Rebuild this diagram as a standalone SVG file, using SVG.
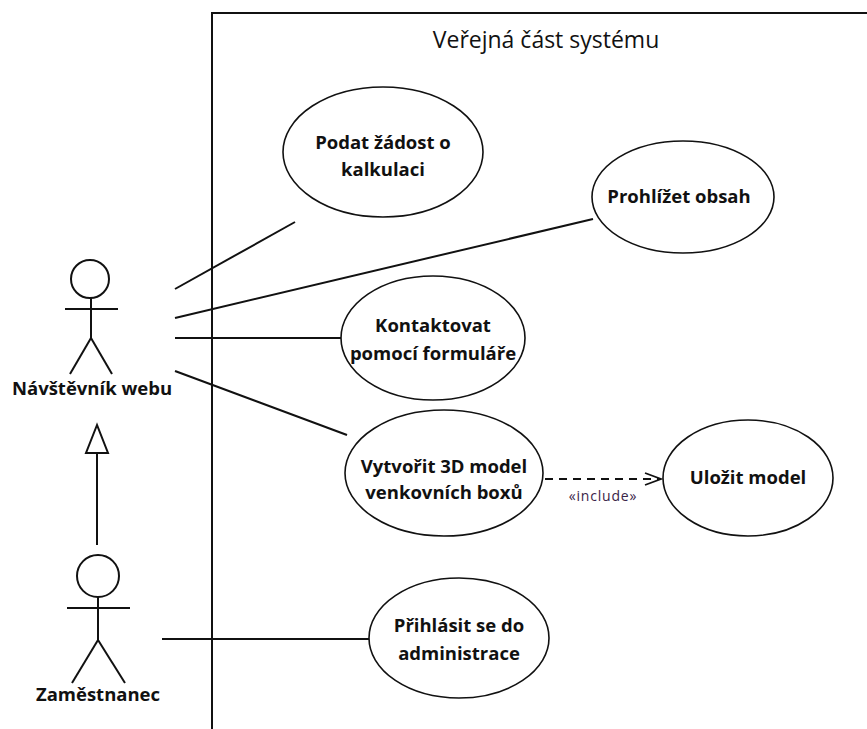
<svg xmlns="http://www.w3.org/2000/svg" width="867" height="729" viewBox="0 0 867 729">
<defs>
<style>
.ln{stroke:#111;stroke-width:2;fill:none}
.uc{fill:#fff;stroke:#111;stroke-width:1.6}
.t{font-family:"Open Sans","Liberation Sans",sans-serif;font-weight:bold;font-size:18.5px;fill:#111;text-anchor:middle}
.title{font-family:"Open Sans","Liberation Sans",sans-serif;font-size:23px;fill:#111;text-anchor:middle}
.st{font-family:"Open Sans","Liberation Sans",sans-serif;font-size:14px;letter-spacing:0.8px;fill:#3a2448;text-anchor:middle}
</style>
<marker id="open" markerWidth="20" markerHeight="14" refX="17" refY="7" orient="auto" markerUnits="userSpaceOnUse">
<path d="M1,1 L17,7 L1,13" fill="none" stroke="#111" stroke-width="1.8"/>
</marker>
</defs>
<rect width="867" height="729" fill="#fff"/>
<g id="boundary">
<path class="ln" d="M212,729 V13 H867"/>
<text class="title" x="546" y="48">Veřejná část systému</text>
</g>
<g id="connectors">
<line class="ln" x1="175" y1="289" x2="295" y2="222"/>
<line class="ln" x1="175" y1="318" x2="593" y2="219"/>
<line class="ln" x1="175" y1="338" x2="342" y2="338"/>
<line class="ln" x1="175" y1="371" x2="347" y2="435"/>
<line class="ln" x1="162" y1="639" x2="369" y2="639"/>
<line class="ln" x1="97" y1="545" x2="97" y2="453"/>
<polygon points="97,425 86,453 108,453" fill="#fff" stroke="#111" stroke-width="2"/>
<line class="ln" x1="545" y1="479" x2="661" y2="479" stroke-dasharray="8,6" marker-end="url(#open)"/>
<text class="st" x="603" y="501">«include»</text>
</g>
<g id="actor-navstevnik">
<circle cx="90" cy="279" r="19" class="ln"/>
<line class="ln" x1="65" y1="309" x2="118" y2="309"/>
<line class="ln" x1="91" y1="298" x2="91" y2="338"/>
<line class="ln" x1="91" y1="338" x2="70" y2="374"/>
<line class="ln" x1="91" y1="338" x2="112" y2="374"/>
<text class="t" x="92" y="395">Návštěvník webu</text>
</g>
<g id="actor-zamestnanec">
<circle cx="98" cy="576" r="21" class="ln"/>
<line class="ln" x1="67" y1="608" x2="130" y2="608"/>
<line class="ln" x1="98" y1="597" x2="98" y2="640"/>
<line class="ln" x1="98" y1="640" x2="72" y2="683"/>
<line class="ln" x1="98" y1="640" x2="125" y2="683"/>
<text class="t" x="98" y="701">Zaměstnanec</text>
</g>
<g id="uc-podat">
<ellipse class="uc" cx="383" cy="152" rx="100" ry="65"/>
<text class="t" x="383" y="149">Podat žádost o</text>
<text class="t" x="383" y="176">kalkulaci</text>
</g>
<g id="uc-prohlizet">
<ellipse class="uc" cx="683" cy="197" rx="91" ry="56"/>
<text class="t" x="679" y="203">Prohlížet obsah</text>
</g>
<g id="uc-kontaktovat">
<ellipse class="uc" cx="433" cy="338" rx="92" ry="62"/>
<text class="t" x="433" y="332">Kontaktovat</text>
<text class="t" x="433" y="360">pomocí formuláře</text>
</g>
<g id="uc-vytvorit">
<ellipse class="uc" cx="444" cy="473" rx="99" ry="63"/>
<text class="t" x="444" y="473">Vytvořit 3D model</text>
<text class="t" x="444" y="499">venkovních boxů</text>
</g>
<g id="uc-ulozit">
<ellipse class="uc" cx="748" cy="478" rx="85" ry="58"/>
<text class="t" x="748" y="484">Uložit model</text>
</g>
<g id="uc-prihlasit">
<ellipse class="uc" cx="459" cy="638" rx="90" ry="60"/>
<text class="t" x="459" y="632">Přihlásit se do</text>
<text class="t" x="459" y="660">administrace</text>
</g>
</svg>
